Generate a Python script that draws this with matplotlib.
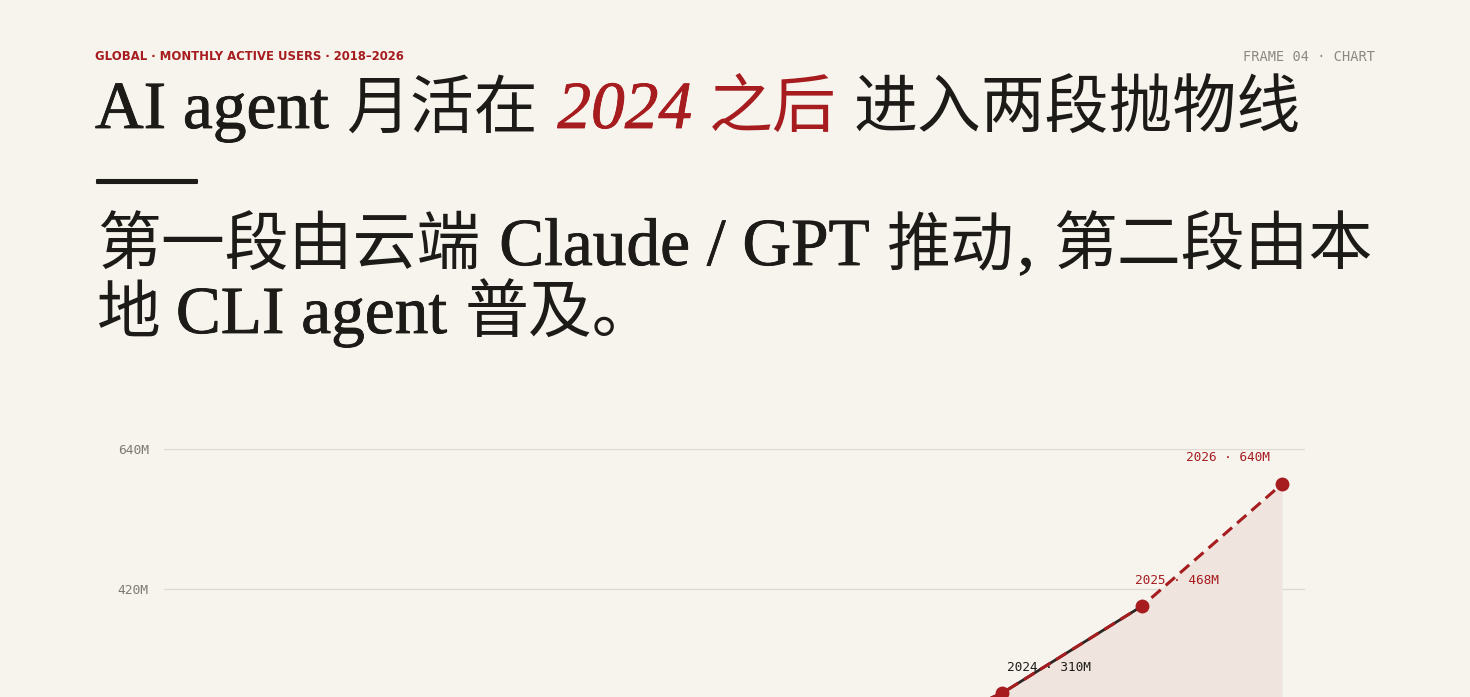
import numpy as np
import matplotlib
matplotlib.use('Agg')
import matplotlib.pyplot as plt
import matplotlib.patheffects as pe

# colours
BG = '#f7f4ee'
INK = '#1d1b18'
RED = '#a61c1f'
GREY = '#7d7973'
GRID = '#dedad2'
FILL = '#efe4de'

LAT = ['Liberation Serif', 'Noto Sans CJK SC']
CJK = ['Noto Sans CJK SC', 'Liberation Serif']
MONO = 'DejaVu Sans Mono'

# data (MAU, millions, as drawn)
years = [2018, 2019, 2020, 2021, 2022, 2023, 2024, 2025, 2026]
mau = [4, 9, 18, 36, 75, 160, 256, 393, 585]
milestone_years = [2024, 2025, 2026]
milestone_labels = ['2024 · 310M', '2025 · 468M', '2026 · 640M']
milestone_colors = [INK, RED, RED]
label_offsets = [(5, 26), (-7, 26), (-96, 26)]  # pixels
y_ticks = [420, 640]
y_tick_labels = ['420M', '640M']

W, H = 1470, 697
fig = plt.figure(figsize=(W / 100, H / 100), dpi=100, facecolor=BG)
renderer = fig.canvas.get_renderer()


def px(x, y):
    # pixel coords from top-left -> figure fraction
    return x / W, 1 - y / H


def put_line(pieces, x0, ybase):
    # pieces: (text, latin?, style, colour, gap before in px)
    x = x0
    for s, latin, st, color, gap in pieces:
        x += gap
        fx, fy = px(x, ybase)
        if latin:
            t = fig.text(fx, fy, s, fontsize=48.5, family=LAT, style=st,
                         color=color, va='baseline', ha='left')
            t.set_path_effects([pe.withStroke(linewidth=0.6, foreground=color)])
        else:
            t = fig.text(fx, fy, s, fontsize=46, family=CJK, color=color,
                         va='baseline', ha='left')
        bb = t.get_window_extent(renderer=renderer)
        x = bb.x1


# header
fx, fy = px(95, 57)
fig.text(fx, fy, 'GLOBAL · MONTHLY ACTIVE USERS · 2018–2026', fontsize=8.4,
         family='DejaVu Sans', weight='bold', color=RED, va='center', ha='left')
fx, fy = px(1375, 57)
fig.text(fx, fy, 'FRAME 04 · CHART', fontsize=9.8, family=MONO,
         color='#8c8881', va='center', ha='right')

# title
put_line([('AI agent', True, 'normal', INK, 0),
          ('月活在', False, 'normal', INK, 17),
          ('2024', True, 'italic', RED, 20),
          ('之后', False, 'normal', RED, 16),
          ('进入两段抛物线', False, 'normal', INK, 17)], 95, 128)
dash = fig.text(*px(97, 193), '——', fontsize=36, family=LAT, color=INK,
                va='baseline', ha='left')
dash.set_path_effects([pe.withStroke(linewidth=1.5, foreground=INK)])
put_line([('第一段由云端', False, 'normal', INK, 0),
          ('Claude / GPT', True, 'normal', INK, 19),
          ('推动', False, 'normal', INK, 17),
          (',', True, 'normal', INK, 3),
          ('第二段由本', False, 'normal', INK, 18)], 97, 265)
put_line([('地', False, 'normal', INK, 0),
          ('CLI agent', True, 'normal', INK, 15),
          ('普及。', False, 'normal', INK, 17)], 97, 333)

# chart axes (bottom part runs off the frame)
ax = fig.add_axes([164 / W, -159 / H, (1305 - 164) / W, 407 / H])
ax.set_facecolor(BG)
ax.set_xlim(2018 + 2 / 140, 2026 + 23 / 140)
ax.set_ylim(0, 640)
for sp in ax.spines.values():
    sp.set_visible(False)
ax.set_yticks(y_ticks)
ax.set_yticklabels(y_tick_labels, family=MONO, fontsize=9.3, color=GREY)
ax.tick_params(axis='y', length=0, pad=11)
ax.set_xticks([])
ax.grid(axis='y', color=GRID, linewidth=1)
ax.set_axisbelow(True)

yrs = np.array(years)
vals = np.array(mau, dtype=float)
late = yrs >= 2024
ax.fill_between(yrs[late], vals[late], 0, color=FILL, linewidth=0, zorder=1)

solid = yrs <= 2025
ax.plot(yrs[solid], vals[solid], color='#2b2522', linewidth=2.0, zorder=2,
        solid_capstyle='round')
ax.plot(yrs, vals, color=RED, linewidth=2.2, dashes=(4, 2.2), zorder=3)

for yr, lab, c, (dx, dy) in zip(milestone_years, milestone_labels,
                                milestone_colors, label_offsets):
    v = mau[years.index(yr)]
    ax.plot([yr], [v], 'o', color=RED, markersize=10, zorder=4,
            markeredgewidth=0, clip_on=False)
    ax.annotate(lab, xy=(yr, v), xytext=(dx, dy), textcoords='offset pixels',
                family=MONO, fontsize=9.2, color=c, ha='left', va='center',
                zorder=5)

fig.savefig('out.png', dpi=100, facecolor=BG)
